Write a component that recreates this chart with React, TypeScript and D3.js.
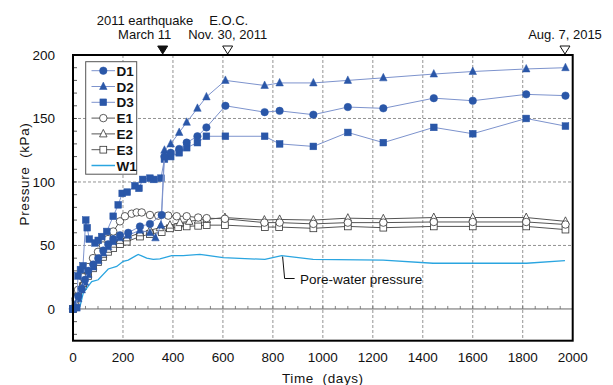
import * as d3 from 'd3';
import { useEffect, useRef } from 'react';

const W = 613;
const H = 385;
const FONT = "'Liberation Sans', Arial, sans-serif";

// [day, kPa]
const D1: [number, number][] = [
  [0, 0], [8, 1], [21, 10], [35, 16], [48, 23], [61, 30], [81, 35], [101, 40], [121, 46], [141, 51],
  [161, 55], [188, 58], [221, 60], [268, 65], [308, 67], [355, 74], [366, 120], [391, 123], [425, 126],
  [455, 131], [498, 136], [534, 143], [610, 160], [767, 155], [827, 156], [962, 153], [1100, 159],
  [1242, 158], [1444, 166], [1600, 164], [1814, 169], [1971, 168],
];
const D2: [number, number][] = [
  [0, 0], [8, 3], [21, 8], [35, 15], [48, 21], [61, 27], [81, 33], [101, 38], [121, 44], [141, 49],
  [161, 53], [188, 56], [221, 58], [268, 62], [308, 60], [330, 56], [352, 66], [366, 125], [391, 130],
  [425, 139], [455, 147], [498, 158], [534, 167], [610, 180], [767, 176], [827, 178], [962, 178],
  [1100, 180], [1242, 182], [1444, 185], [1600, 187], [1814, 189], [1971, 190],
];
const D3: [number, number][] = [
  [0, 0], [15, 1], [20, 26], [30, 31], [40, 34], [51, 70], [57, 64], [65, 55], [88, 52], [101, 54],
  [115, 57], [135, 61], [161, 73], [181, 82], [197, 91], [217, 92], [248, 97], [264, 95], [279, 102],
  [308, 103], [324, 102], [352, 103], [366, 118], [391, 120], [425, 123], [455, 127], [498, 131],
  [534, 136], [610, 136], [767, 136], [827, 130], [962, 128], [1100, 139], [1242, 131], [1444, 143],
  [1600, 138], [1814, 150], [1971, 144],
];
const E1: [number, number][] = [
  [0, 0], [10, 8], [20, 15], [40, 25], [60, 33], [80, 40], [100, 45], [120, 50], [140, 55], [161, 61],
  [188, 69], [208, 73], [235, 75], [255, 76], [275, 76], [308, 74], [341, 73.5], [381, 73.5], [415, 73],
  [455, 73], [501, 72], [535, 71.5], [608, 71], [766, 68], [827, 68], [962, 67], [1100, 68], [1242, 68],
  [1444, 68.5], [1600, 68.5], [1814, 68.5], [1971, 66.5],
];
const E2: [number, number][] = [
  [0, 0], [10, 5], [20, 12], [40, 20], [60, 28], [80, 34], [100, 39], [120, 43], [140, 47], [161, 51],
  [188, 54], [215, 56], [268, 60], [308, 62], [348, 64], [388, 66], [428, 68], [465, 69], [501, 70],
  [535, 70.5], [608, 72], [766, 70], [827, 70.5], [962, 70], [1100, 71.5], [1242, 71], [1444, 72],
  [1600, 72], [1814, 72], [1971, 69],
];
const E3: [number, number][] = [
  [0, 0], [10, 4], [20, 10], [40, 18], [60, 26], [80, 32], [100, 37], [120, 41], [140, 45], [161, 48],
  [188, 51], [215, 53], [268, 57], [308, 59], [355, 60.5], [388, 63.5], [421, 64.5], [455, 65], [501, 65.5],
  [535, 66], [608, 66], [768, 64.5], [825, 64.5], [962, 63.5], [1100, 65], [1242, 64], [1444, 65],
  [1600, 65], [1814, 65], [1971, 62.5],
];
const W1: [number, number][] = [
  [0, 0], [28, 2], [41, 12.5], [61, 18], [75, 21.5], [101, 23], [141, 31.5], [175, 33.5], [201, 37.5],
  [221, 38.5], [261, 43], [295, 40], [321, 39], [348, 39.5], [395, 42], [441, 42], [508, 43], [601, 40.5],
  [768, 39], [835, 42], [961, 39], [1241, 38.5], [1441, 36], [1815, 36], [1969, 38],
];

const xTicks = [0, 200, 400, 600, 800, 1000, 1200, 1400, 1600, 1800, 2000];
const yTicks = [0, 50, 100, 150, 200];

// events along the top: [day, line1, line2, filled]
const events: [number, string, string, boolean][] = [
  [359, '2011 earthquake', 'March 11', true],
  [619, 'E.O.C.', 'Nov. 30, 2011', false],
  [1969, '', 'Aug. 7, 2015', false],
];

type Series = { name: string; data: [number, number][]; shape: string; filled: boolean; markers: boolean };
const series: Series[] = [
  { name: 'D1', data: D1, shape: 'circle', filled: true, markers: true },
  { name: 'D2', data: D2, shape: 'triangle', filled: true, markers: true },
  { name: 'D3', data: D3, shape: 'square', filled: true, markers: true },
  { name: 'E1', data: E1, shape: 'circle', filled: false, markers: true },
  { name: 'E2', data: E2, shape: 'triangle', filled: false, markers: true },
  { name: 'E3', data: E3, shape: 'square', filled: false, markers: true },
  { name: 'W1', data: W1, shape: 'none', filled: false, markers: false },
];

const BLUE = '#2a57a8';
const BLUE_LINE = '#7d93cd';
const GRAY_LINE = '#555';
const WATER = '#2aa5e0';

export default function App() {
  const ref = useRef<SVGSVGElement>(null);

  useEffect(() => {
    if (!ref.current) return;
    const svg = d3.select(ref.current);
    svg.selectAll('*').remove();

    const x = d3.scaleLinear().domain([0, 2000]).range([73, 572.7]);
    const y = d3.scaleLinear().domain([-25, 200]).range([340.7, 55]);
    const [x0, x1] = x.range();
    const [y0, y1] = y.range();

    const g = svg.append('g');

    // grid
    g.selectAll('.vg').data(xTicks.slice(1, -1)).join('line')
      .attr('x1', d => x(d)).attr('x2', d => x(d)).attr('y1', y1).attr('y2', y0)
      .attr('stroke', '#777').attr('stroke-width', 0.8).attr('stroke-dasharray', '3,2');
    g.selectAll('.hg').data([50, 100, 150]).join('line')
      .attr('x1', x0).attr('x2', x1).attr('y1', d => y(d)).attr('y2', d => y(d))
      .attr('stroke', '#777').attr('stroke-width', 0.8).attr('stroke-dasharray', '3,2');
    g.append('line').attr('x1', x0).attr('x2', x1).attr('y1', y(0)).attr('y2', y(0))
      .attr('stroke', '#666').attr('stroke-width', 1);
    // minor ticks on zero line
    g.selectAll('.zt').data(d3.range(50, 2000, 50)).join('line')
      .attr('x1', d => x(d)).attr('x2', d => x(d)).attr('y1', y(0)).attr('y2', y(0) - 3)
      .attr('stroke', '#666').attr('stroke-width', 0.8);
    // minor ticks on left axis
    g.selectAll('.yt').data(d3.range(-20, 200, 10)).join('line')
      .attr('x1', x0).attr('x2', x0 + 4).attr('y1', d => y(d)).attr('y2', d => y(d))
      .attr('stroke', '#333').attr('stroke-width', 0.8);

    const line = d3.line<[number, number]>().x(d => x(d[0])).y(d => y(d[1]));

    const drawMarker = (sel: d3.Selection<SVGGElement, unknown, null, undefined>, s: Series, cx: number, cy: number, sz: number) => {
      const fill = s.filled ? BLUE : '#fff';
      const stroke = s.filled ? BLUE : '#333';
      const sw = s.filled ? 0.5 : 0.8;
      if (s.shape === 'circle') {
        sel.append('circle').attr('cx', cx).attr('cy', cy).attr('r', sz / 2)
          .attr('fill', fill).attr('stroke', stroke).attr('stroke-width', sw);
      } else if (s.shape === 'square') {
        const a = sz * 0.9;
        sel.append('rect').attr('x', cx - a / 2).attr('y', cy - a / 2).attr('width', a).attr('height', a)
          .attr('fill', fill).attr('stroke', stroke).attr('stroke-width', sw);
      } else if (s.shape === 'triangle') {
        const h = sz;
        sel.append('path')
          .attr('d', `M${cx},${cy - h * 0.6}L${cx + h / 2},${cy + h * 0.4}L${cx - h / 2},${cy + h * 0.4}Z`)
          .attr('fill', fill).attr('stroke', stroke).attr('stroke-width', sw);
      }
    };

    const order = ['E3', 'E2', 'E1', 'W1', 'D3', 'D2', 'D1'];
    order.forEach(name => {
      const s = series.find(v => v.name === name)!;
      const color = name === 'W1' ? WATER : s.filled ? BLUE_LINE : GRAY_LINE;
      g.append('path').attr('d', line(s.data)).attr('fill', 'none')
        .attr('stroke', color).attr('stroke-width', name === 'W1' ? 1.3 : 1);
      if (s.markers) {
        const mg = g.append('g');
        s.data.forEach(d => drawMarker(mg, s, x(d[0]), y(d[1]), 7.5));
      }
    });

    // frame
    g.append('rect').attr('x', x0).attr('y', y1).attr('width', x1 - x0).attr('height', y0 - y1)
      .attr('fill', 'none').attr('stroke', '#000').attr('stroke-width', 2);

    // tick labels
    g.selectAll('.xl').data(xTicks).join('text')
      .attr('x', d => x(d)).attr('y', 362).attr('text-anchor', 'middle')
      .attr('font-family', FONT).attr('font-size', 13.5).attr('fill', '#111').text(d => d);
    g.selectAll('.yl').data(yTicks).join('text')
      .attr('x', 55).attr('y', d => y(d) + 5).attr('text-anchor', 'end')
      .attr('font-family', FONT).attr('font-size', 13.5).attr('fill', '#111').text(d => d);

    // axis titles
    g.append('text').attr('x', (x0 + x1) / 2 + 0).attr('y', 383).attr('text-anchor', 'middle')
      .attr('font-family', FONT).attr('font-size', 13.5).attr('letter-spacing', 0.6).attr('fill', '#111')
      .attr('xml:space', 'preserve').text('Time  (days)');
    g.append('text').attr('transform', 'translate(29,174) rotate(-90)').attr('text-anchor', 'middle')
      .attr('font-family', FONT).attr('font-size', 13.5).attr('letter-spacing', 0.6).attr('fill', '#111')
      .attr('xml:space', 'preserve').text('Pressure  (kPa)');

    // events along the top
    events.forEach(([day, l1, l2, filled]) => {
      const cx = x(day);
      g.append('path').attr('d', `M${cx - 5},${y1 - 9}L${cx + 5},${y1 - 9}L${cx},${y1 - 1}Z`)
        .attr('fill', filled ? '#111' : '#fff').attr('stroke', '#111').attr('stroke-width', 1);
      const tx = day > 1900 ? 565 : cx - (filled ? 18 : 0);
      g.append('text').attr('x', tx).attr('y', 39).attr('text-anchor', 'middle')
        .attr('font-family', FONT).attr('font-size', 13).attr('fill', '#111').text(l2);
      if (l1) {
        g.append('text').attr('x', filled ? 145 : cx + 1).attr('y', 25).attr('text-anchor', 'middle')
          .attr('font-family', FONT).attr('font-size', 13).attr('fill', '#111').text(l1);
      }
    });

    // pore-water annotation
    const ax = x(W1[19][0]);
    const ay = y(W1[19][1]);
    g.append('path').attr('d', `M${ax + 1},${ay + 1}L${ax + 3},278.5L${ax + 13},278.5`)
      .attr('fill', 'none').attr('stroke', '#111').attr('stroke-width', 1);
    g.append('text').attr('x', 300).attr('y', 284)
      .attr('font-family', FONT).attr('font-size', 13.5).attr('fill', '#111').text('Pore-water pressure');

    // legend
    const lg = g.append('g');
    lg.append('rect').attr('x', 85.7).attr('y', 61.7).attr('width', 51).attr('height', 112.5)
      .attr('fill', '#fff').attr('stroke', '#555').attr('stroke-width', 1);
    series.forEach((s, i) => {
      const ly = 70.7 + i * 15.8;
      const color = s.name === 'W1' ? WATER : s.filled ? BLUE_LINE : GRAY_LINE;
      lg.append('line').attr('x1', 91.5).attr('x2', 115).attr('y1', ly).attr('y2', ly)
        .attr('stroke', color).attr('stroke-width', s.name === 'W1' ? 1.5 : 1);
      if (s.markers) drawMarker(lg as any, s, 103.3, ly, 7.5);
      lg.append('text').attr('x', 116.5).attr('y', ly + 5)
        .attr('font-family', FONT).attr('font-size', 13.5).attr('font-weight', 'bold').attr('fill', '#111')
        .text(s.name);
    });
  }, []);

  return (
    <svg ref={ref} width={W} height={H} style={{ position: 'absolute', left: 0, top: 0, background: '#fff' }} />
  );
}
